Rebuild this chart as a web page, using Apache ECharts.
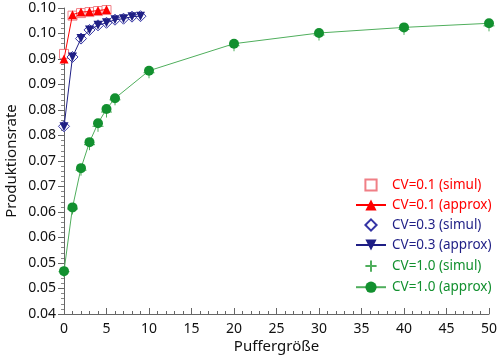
<!DOCTYPE html>
<html><head><meta charset="utf-8">
<script src="https://cdn.jsdelivr.net/npm/echarts@6/dist/echarts.min.js"></script>
<style>html,body{margin:0;padding:0;background:#fff}#c{width:503px;height:360px}</style>
</head><body><div id="c"></div>
<script>
// ---- data ----
const xRed = [0, 1, 2, 3, 4, 5];
const redSimul = [0.0910, 0.0985, 0.0990, 0.0992, 0.0994, 0.0996];
const redApprox = [0.0900, 0.0987, 0.0992, 0.0993, 0.0995, 0.0997];
const xBlue = [0, 1, 2, 3, 4, 5, 6, 7, 8, 9];
const blueSimul = [0.0768, 0.0904, 0.0940, 0.0957, 0.0966, 0.0971, 0.0977, 0.0979, 0.0983, 0.0984];
const blueApprox = [0.0767, 0.0904, 0.0940, 0.0957, 0.0966, 0.0971, 0.0977, 0.0979, 0.0983, 0.0984];
const xGreen = [0, 1, 2, 3, 4, 5, 6, 10, 20, 30, 40, 50];
const greenSimul = [0.0483, 0.0606, 0.0682, 0.0732, 0.0768, 0.0796, 0.0820, 0.0873, 0.0926, 0.0947, 0.0958, 0.0965];
const greenApprox = [0.0484, 0.0609, 0.0686, 0.0737, 0.0774, 0.0802, 0.0823, 0.0877, 0.0930, 0.0951, 0.0962, 0.0970];
const seriesNames = ['CV=0.1 (simul)', 'CV=0.1 (approx)', 'CV=0.3 (simul)', 'CV=0.3 (approx)', 'CV=1.0 (simul)', 'CV=1.0 (approx)'];
const yTickLabels = ['0.04','0.05','0.05','0.06','0.06','0.07','0.07','0.08','0.08','0.09','0.09','0.10','0.10'];
const xTitle = 'Puffergröße';
const yTitle = 'Produktionsrate';

// ---- styles ----
const RED = '#ff0000', PINK = '#f07f86', NAVY = '#1f1f85', NAVY2 = '#3535a5', GREEN = '#12902f', GREEN2 = '#4fae5c';
const FONT = 'Noto Sans';
const pair = (xs, ys) => xs.map((x, i) => [x, ys[i]]);
const plusPath = 'path://M5,0L5,10M0,5L10,5';
const noLine = {width: 0, opacity: 0};

const chart = echarts.init(document.getElementById('c'), null, {renderer: 'canvas'});
chart.setOption({
  animation: false,
  textStyle: {fontFamily: FONT},
  grid: {left: 64, right: 14, top: 8, bottom: 46, outerBoundsMode: 'none', containLabel: false},
  xAxis: {
    type: 'value', min: 0, max: 50, interval: 5,
    name: xTitle, nameLocation: 'middle', nameGap: 25, nameMoveOverlap: false,
    nameTextStyle: {fontSize: 15, color: '#111', fontFamily: FONT},
    axisLine: {show: true, lineStyle: {color: '#666', width: 1}},
    axisTick: {show: true, inside: true, length: 6, lineStyle: {color: '#666'}},
    minorTick: {show: true, splitNumber: 5, length: 3, lineStyle: {color: '#666'}},
    axisLabel: {fontSize: 14, color: '#111', margin: 8, fontFamily: FONT},
    splitLine: {show: false}
  },
  yAxis: {
    type: 'value', min: 0.04, max: 0.1, interval: 0.005,
    name: yTitle, nameLocation: 'middle', nameGap: 45, nameRotate: 90, nameMoveOverlap: false,
    nameTextStyle: {fontSize: 15, color: '#111', fontFamily: FONT},
    axisLine: {show: true, lineStyle: {color: '#666', width: 1}},
    axisTick: {show: true, inside: false, length: 6, lineStyle: {color: '#666'}},
    minorTick: {show: true, splitNumber: 5, length: 3, lineStyle: {color: '#888'}},
    axisLabel: {fontSize: 14, color: '#111', margin: 8, fontFamily: FONT,
      formatter: v => yTickLabels[Math.round((v - 0.04) / 0.005)] || ''},
    splitLine: {show: false}
  },
  legend: {
    orient: 'vertical', left: 350, top: 173, itemWidth: 30, itemHeight: 14, itemGap: 6,
    textStyle: {fontSize: 13.5, fontFamily: FONT, padding: [0, 0, 0, 1]},
    data: [
      {name: seriesNames[0], textStyle: {color: RED}},
      {name: seriesNames[1], textStyle: {color: RED}},
      {name: seriesNames[2], textStyle: {color: NAVY}},
      {name: seriesNames[3], textStyle: {color: NAVY}},
      {name: seriesNames[4], textStyle: {color: GREEN}},
      {name: seriesNames[5], textStyle: {color: GREEN}}
    ]
  },
  series: [
    {name: seriesNames[0], type: 'line', data: pair(xRed, redSimul), symbol: 'rect', symbolSize: 9, z: 2,
      lineStyle: noLine, itemStyle: {color: '#fff', borderColor: PINK, borderWidth: 1}},
    {name: seriesNames[1], type: 'line', data: pair(xRed, redApprox), symbol: 'triangle', symbolSize: 9, z: 3,
      lineStyle: {color: RED, width: 1}, itemStyle: {color: RED, borderWidth: 0}},
    {name: seriesNames[2], type: 'line', data: pair(xBlue, blueSimul), symbol: 'diamond', symbolSize: 11, z: 2,
      lineStyle: noLine, itemStyle: {color: '#fff', borderColor: NAVY2, borderWidth: 1}},
    {name: seriesNames[3], type: 'line', data: pair(xBlue, blueApprox), symbol: 'triangle', symbolRotate: 180, symbolSize: 9, z: 3,
      lineStyle: {color: NAVY, width: 1}, itemStyle: {color: NAVY, borderWidth: 0}},
    {name: seriesNames[4], type: 'line', data: pair(xGreen, greenSimul), symbol: plusPath, symbolSize: 11, z: 2,
      lineStyle: noLine, itemStyle: {color: 'none', borderColor: GREEN2, borderWidth: 1}},
    {name: seriesNames[5], type: 'line', data: pair(xGreen, greenApprox), symbol: 'circle', symbolSize: 10, z: 3,
      lineStyle: {color: GREEN2, width: 1}, itemStyle: {color: GREEN, borderWidth: 0}}
  ]
});
</script></body></html>
